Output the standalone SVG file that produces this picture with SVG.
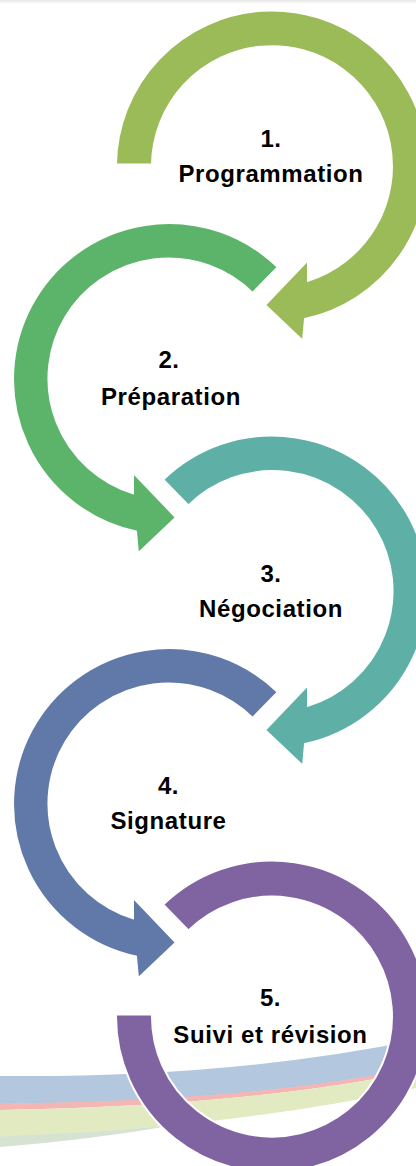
<svg xmlns="http://www.w3.org/2000/svg" width="416" height="1166" viewBox="0 0 416 1166">
<defs>
<style>
.ring{stroke:#ffffff;stroke-width:2;stroke-linejoin:miter}
.lbl{font-family:"Liberation Sans",Arial,sans-serif;font-weight:bold;font-size:24px;letter-spacing:0.6px;fill:#000000;text-anchor:middle}
</style>
<linearGradient id="topShade" x1="0" y1="0" x2="0" y2="1">
<stop offset="0" stop-color="#e6e6e6"/>
<stop offset="1" stop-color="#ffffff"/>
</linearGradient>
<path id="arrowFirst" d="M -156,-2 A 156 156 0 1 1 33,152.5 L 31,174.5 L -7,138.5 L 36,93.5 L 36,114.2 A 120 120 0 1 0 -120,-2 Z"/>
<path id="arrowMid" d="M -108.7,-111.9 A 156 156 0 1 1 33,152.5 L 31,174.5 L -7,138.5 L 36,93.5 L 36,114.2 A 120 120 0 1 0 -83.6,-86 Z"/>
<path id="ringLast" d="M -108.7,-111.9 A 156 156 0 1 1 -156,-2 L -120,-2 A 120 120 0 1 0 -83.6,-86 Z"/>
</defs>
<rect x="0" y="0" width="416" height="1166" fill="#ffffff"/>
<rect x="0" y="0" width="416" height="4" fill="url(#topShade)"/>
<g id="background-swoosh">
<path d="M 0,1076 Q 230,1078 416,1040 L 416,1068 Q 250,1102 0,1104 Z" fill="#b3c7de"/>
<path d="M 0,1103.5 Q 250,1101.5 416,1067.5 L 416,1071 Q 250,1106 0,1110 Z" fill="#f4b5b5"/>
<path d="M 0,1110 Q 250,1106 416,1071 L 416,1088 Q 230,1128 0,1137 Z" fill="#e1eac0"/>
<path d="M 0,1136.5 Q 90,1133 175,1125 Q 90,1140 0,1147 Z" fill="#d6e2d2"/>
</g>
<g id="node1">
<use href="#arrowFirst" class="ring" fill="#9bbb59" transform="translate(272,166.5)"/>
<text class="lbl" x="271" y="147">1.</text>
<text class="lbl" x="271" y="182">Programmation</text>
</g>
<g id="node2">
<use href="#arrowMid" class="ring" fill="#5cb46a" transform="translate(169,379) scale(-1,1)"/>
<text class="lbl" x="169" y="368">2.</text>
<text class="lbl" x="171" y="405">Préparation</text>
</g>
<g id="node3">
<use href="#arrowMid" class="ring" fill="#5eb0a6" transform="translate(272,591.5)"/>
<text class="lbl" x="271" y="582">3.</text>
<text class="lbl" x="271" y="617">Négociation</text>
</g>
<g id="node4">
<use href="#arrowMid" class="ring" fill="#6079a8" transform="translate(169,804) scale(-1,1)"/>
<text class="lbl" x="168.5" y="794">4.</text>
<text class="lbl" x="168.5" y="829">Signature</text>
</g>
<g id="node5">
<use href="#ringLast" class="ring" fill="#8064a2" transform="translate(272,1016.5)"/>
<text class="lbl" x="270.5" y="1006">5.</text>
<text class="lbl" x="270.5" y="1042.5">Suivi et révision</text>
</g>
<g id="connectors"></g>
</svg>
